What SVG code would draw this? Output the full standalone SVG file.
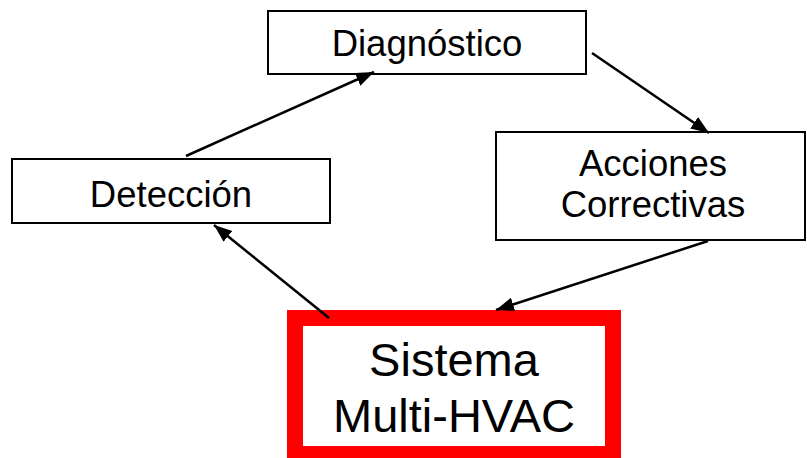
<svg xmlns="http://www.w3.org/2000/svg" width="807" height="458" viewBox="0 0 807 458">
  <style>
    .box { fill: #ffffff; stroke: #000000; stroke-width: 2; }
    .main { fill: #ffffff; stroke: #ff0000; stroke-width: 16; }
    .lbl { font-family: "Liberation Sans", Arial, sans-serif; font-size: 36.5px; fill: #000000; text-anchor: middle; }
    .big { font-size: 47px; }
    .link { stroke: #000000; stroke-width: 2.5; fill: none; marker-end: url(#head); }
  </style>
  <defs>
    <marker id="head" markerUnits="userSpaceOnUse" markerWidth="20" markerHeight="16" refX="18" refY="7" orient="auto">
      <path d="M0,0 L18,7 L0,14 Z" fill="#000000"/>
    </marker>
  </defs>
  <rect width="807" height="458" fill="#ffffff"/>

  <g id="diagnostico">
    <rect class="box" x="268" y="11" width="318" height="63"/>
    <text class="lbl" x="427" y="56">Diagnóstico</text>
  </g>

  <g id="deteccion">
    <rect class="box" x="12" y="159" width="318" height="64"/>
    <text class="lbl" x="171" y="207">Detección</text>
  </g>

  <g id="acciones">
    <rect class="box" x="496" y="132" width="309" height="108"/>
    <text class="lbl" x="653" y="176">Acciones</text>
    <text class="lbl" x="653" y="217">Correctivas</text>
  </g>

  <g id="sistema">
    <rect class="main" x="295" y="318" width="318" height="136"/>
    <text class="lbl big" x="454" y="376">Sistema</text>
    <text class="lbl big" x="454" y="432">Multi-HVAC</text>
  </g>

  <g id="connectors">
    <line class="link" x1="186" y1="156" x2="374" y2="72"/>
    <line class="link" x1="592" y1="53" x2="709" y2="133"/>
    <line class="link" x1="708" y1="241" x2="496" y2="310"/>
    <line class="link" x1="329" y1="318" x2="214" y2="225"/>
  </g>
</svg>
